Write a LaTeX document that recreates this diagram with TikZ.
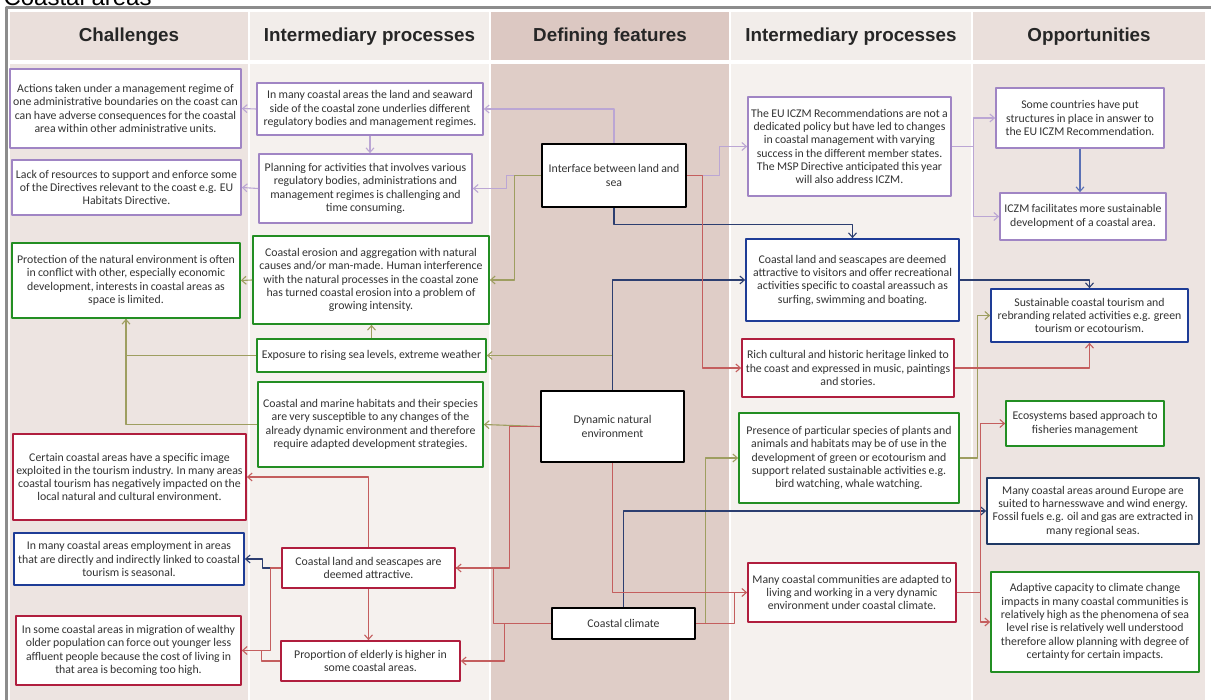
\documentclass[tikz,border=0pt]{standalone}
\usepackage{fontspec}
\setmainfont{Carlito}[WordSpace=0.85]
\newfontfamily\headfont{Liberation Sans}
\usetikzlibrary{arrows.meta}
\definecolor{chalHead}{HTML}{EADFDB}
\definecolor{chalBody}{HTML}{EDE4E1}
\definecolor{midHead}{HTML}{F2EDEA}
\definecolor{midBody}{HTML}{F5F1EE}
\definecolor{defHead}{HTML}{DCC8C2}
\definecolor{defBody}{HTML}{DFCDC7}
\definecolor{boxPurple}{HTML}{A085C4}
\definecolor{boxGreen}{HTML}{238E23}
\definecolor{boxRed}{HTML}{B01E3E}
\definecolor{boxBlue}{HTML}{1E3C96}
\definecolor{boxNavy}{HTML}{1F3864}
\definecolor{linePurple}{HTML}{BBA6D4}
\definecolor{lineOlive}{HTML}{9E9E60}
\definecolor{lineRed}{HTML}{C45E5E}
\definecolor{lineNavy}{HTML}{2C3E70}
\definecolor{lineBlue}{HTML}{5A70B5}
\begin{document}
\begin{tikzpicture}[x=1pt, y=-1pt, line join=round, >={Straight Barb[length=4.5pt,width=8pt]},
  cbox/.style={draw, fill=white, line width=1.7pt, align=center, inner sep=0.5pt, text=black!80, font=\fontsize{11.8}{13.3}\selectfont},
  pbox/.style={cbox, draw=boxPurple},
  gbox/.style={cbox, draw=boxGreen},
  rbox/.style={cbox, draw=boxRed},
  bbox/.style={cbox, draw=boxBlue},
  nbox/.style={cbox, draw=boxNavy},
  kbox/.style={cbox, draw=black, line width=2.4pt},
  head/.style={font=\headfont\bfseries\fontsize{18.8}{20}\selectfont, text=black!85},
  link/.style={line width=1.1pt},
  pline/.style={link, draw=linePurple},
  gline/.style={link, draw=lineOlive},
  rline/.style={link, draw=lineRed},
  nline/.style={link, draw=lineNavy},
  qline/.style={link, draw=lineBlue}]
\useasboundingbox (0,0) rectangle (1211,700);
\fill[white] (0,0) rectangle (1211,700);
\foreach \a/\b/\h/\f in {10/248/chalHead/chalBody, 250/489/midHead/midBody, 491/729/defHead/defBody, 731/971/midHead/midBody, 973/1205/chalHead/chalBody}
  {\fill[\h] (\a,12) rectangle (\b,60);
   \fill[\f] (\a,64) rectangle (\b,700);}
\draw[black!45, line width=3pt] (6.5,700) -- (6.5,8) -- (1211,8);
\node[anchor=base west, font=\headfont\fontsize{24}{26}\selectfont] (title) at (0,5.5) {Coastal areas};
\foreach \x/\t/\n in {129/Challenges/h1, 369.5/Intermediary processes/h2, 610/Defining features/h3, 851/Intermediary processes/h4, 1089/Opportunities/h5}
  \node[head] (\n) at (\x,37) {\t};

\node[pbox, minimum width=231pt, minimum height=79pt] (c1) at (125.5,108.5) {Actions taken under a management regime of\\one administrative boundaries on the coast can\\can have adverse consequences for the coastal\\area within other administrative units.};
\node[pbox, minimum width=229pt, minimum height=55pt] (c2) at (126.5,187.5) {Lack of resources to support and enforce some\\of the Directives relevant to the coast e.g. EU\\Habitats Directive.};
\node[gbox, minimum width=228pt, minimum height=75pt] (c3) at (126,280.5) {Protection of the natural environment is often\\in conflict with other, especially economic\\development, interests in coastal areas as\\space is limited.};
\node[rbox, minimum width=233pt, minimum height=86pt] (c4) at (129.5,477) {Certain coastal areas have a specific image\\exploited in the tourism industry. In many areas\\coastal tourism has negatively impacted on the\\local natural and cultural environment.};
\node[bbox, minimum width=230pt, minimum height=52pt] (c5) at (129,559) {In many coastal areas employment in areas\\that are directly and indirectly linked to coastal\\tourism is seasonal.};
\node[rbox, minimum width=225pt, minimum height=69pt] (c6) at (128.5,650.5) {In some coastal areas in migration of wealthy\\older population can force out younger less\\affluent people because the cost of living in\\that area is becoming too high.};

\node[pbox, minimum width=226pt, minimum height=52pt] (i1) at (370,109) {In many coastal areas the land and seaward\\side of the coastal zone underlies different\\regulatory bodies and management regimes.};
\node[pbox, minimum width=213pt, minimum height=69pt] (i2) at (365.5,188.5) {Planning for activities that involves various\\regulatory bodies, administrations and\\management regimes is challenging and\\time consuming.};
\node[gbox, minimum width=236pt, minimum height=88pt] (i3) at (371,280) {Coastal erosion and aggregation with natural\\causes and/or man-made. Human interference\\with the natural processes in the coastal zone\\has turned coastal erosion into a problem of\\growing intensity.};
\node[gbox, minimum width=229pt, minimum height=33pt] (i4) at (371.5,355.5) {Exposure to rising sea levels, extreme weather};
\node[gbox, minimum width=225pt, minimum height=85pt] (i5) at (370.5,424.5) {Coastal and marine habitats and their species\\are very susceptible to any changes of the\\already dynamic environment and therefore\\require adapted development strategies.};
\node[rbox, minimum width=173pt, minimum height=40pt] (i6) at (368.5,568) {Coastal land and seascapes are\\deemed attractive.};
\node[rbox, minimum width=179pt, minimum height=40pt] (i7) at (370.5,661) {Proportion of elderly is higher in\\some coastal areas.};

\node[kbox, minimum width=144pt, minimum height=63pt] (d1) at (614,175.5) {Interface between land and\\sea};
\node[kbox, minimum width=143pt, minimum height=71pt] (d2) at (612.5,426.5) {Dynamic natural\\environment};
\node[kbox, minimum width=143pt, minimum height=31pt] (d3) at (623.5,623.5) {Coastal climate};

\node[pbox, minimum width=203pt, minimum height=99pt] (r1) at (849.5,146.5) {The EU ICZM Recommendations are not a\\dedicated policy but have led to changes\\in coastal management with varying\\success in the different member states.\\The MSP Directive anticipated this year\\will also address ICZM.};
\node[bbox, minimum width=213pt, minimum height=82pt] (r2) at (852.5,280) {Coastal land and seascapes are deemed\\attractive to visitors and offer recreational\\activities specific to coastal areassuch as\\surfing, swimming and boating.};
\node[rbox, minimum width=212pt, minimum height=58pt] (r3) at (848,368) {Rich cultural and historic heritage linked to\\the coast and expressed in music, paintings\\and stories.};
\node[gbox, minimum width=220pt, minimum height=90pt] (r4) at (849,458) {Presence of particular species of plants and\\animals and habitats may be of use in the\\development of green or ecotourism and\\support related sustainable activities e.g.\\bird watching, whale watching.};
\node[rbox, minimum width=208pt, minimum height=59pt] (r5) at (852,592.5) {Many coastal communities are adapted to\\living and working in a very dynamic\\environment under coastal climate.};

\node[pbox, minimum width=168pt, minimum height=60pt] (o1) at (1080,118) {Some countries have put\\structures in place in answer to\\the EU ICZM Recommendation.};
\node[pbox, minimum width=166pt, minimum height=47pt] (o2) at (1083,216.5) {ICZM facilitates more sustainable\\development of a coastal area.};
\node[bbox, minimum width=197pt, minimum height=53pt] (o3) at (1089.5,315.5) {Sustainable coastal tourism and\\rebranding related activities e.g. green\\tourism or ecotourism.};
\node[gbox, minimum width=158pt, minimum height=45pt] (o4) at (1085,423.5) {Ecosystems based approach to\\fisheries management};
\node[nbox, minimum width=212pt, minimum height=66pt] (o5) at (1093,511) {Many coastal areas around Europe are\\suited to harnesswave and wind energy.\\Fossil fuels e.g. oil and gas are extracted in\\many regional seas.};
\node[gbox, minimum width=208pt, minimum height=100pt] (o6) at (1095,622) {Adaptive capacity to climate change\\impacts in many coastal communities is\\relatively high as the phenomena of sea\\level rise is relatively well understood\\therefore allow planning with degree of\\certainty for certain impacts.};

\draw[pline,->] (d1.north) |- (i1.east);
\draw[pline,->] (i1.south) -- (i1.south |- i2.north);
\draw[pline,->] (i1.west) -- (c1.east);
\draw[pline,->] (d1.west) -- ++(-34,0) |- (i2.east);
\draw[pline,->] (i2.west) -- (c2.east);
\draw[pline,->] (d1.east) -- ++(32,0) |- (r1.west);
\draw[pline,->] (r1.east) -- ++(22,0) |- (o1.west);
\draw[pline,->] (r1.east) -- ++(22,0) |- (o2.west);
\draw[qline,->] (o1.south) -- (o1.south |- o2.north);

\draw[gline,->] (d1.west) -- ++(-26,0) |- (i3.east);
\draw[gline,->] (i3.west) -- (c3.east);
\draw[gline,->] (i4.north) -- (i4.north |- i3.south);
\draw[gline,->] (d2.north) |- (i4.east);
\draw[gline,->] (d2.west) -- (i5.east);
\draw[gline,->] (i4.west) -| (c3.south);
\draw[gline] (i5.west) -| (c3.south);
\draw[gline,->] (d3.east) -- ++(9,0) |- (r4.west);
\draw[gline,->] (r4.east) -- ++(18,0) |- (o3.west);

\draw[nline,->] (d1.south) -- ++(0,16) -| (r2.north);
\draw[nline,->] (d2.north) |- (r2.west);
\draw[nline,->] (r2.east) -| (o3.north);
\draw[nline,->] (d3.north) |- (o5.west);
\draw[nline,->] (i6.west) -- ++(-19,0) |- (c5.east);

\draw[rline,->] (d1.east) -- ++(15,0) |- (r3.west);
\draw[rline,->] (r3.east) -| (o3.south);
\draw[rline,->] (d2.south) |- (r5.west);
\draw[rline] (d3.east) -- ++(38,0) |- (r5.west);
\draw[rline,->] (r5.east) -- ++(24,0) |- (o4.west);
\draw[rline,->] (r5.east) -- ++(24,0) |- (o6.west);
\draw[rline,->] (d2.west) -- ++(-30,0) |- (i6.east);
\draw[rline] (d3.west) -- ++(-57,0) |- (i6.east);
\draw[rline,->] (d3.west) -- ++(-46,0) |- (i7.east);
\draw[rline,->] (i6.north) |- (c4.east);
\draw[rline,->] (i6.south) -- (i6.south |- i7.north);
\draw[rline,->] (i6.west) -- ++(-11,0) |- (c6.east);
\draw[rline] (i7.west) -- ++(-19,0) |- (c6.east);
\end{tikzpicture}
\end{document}
